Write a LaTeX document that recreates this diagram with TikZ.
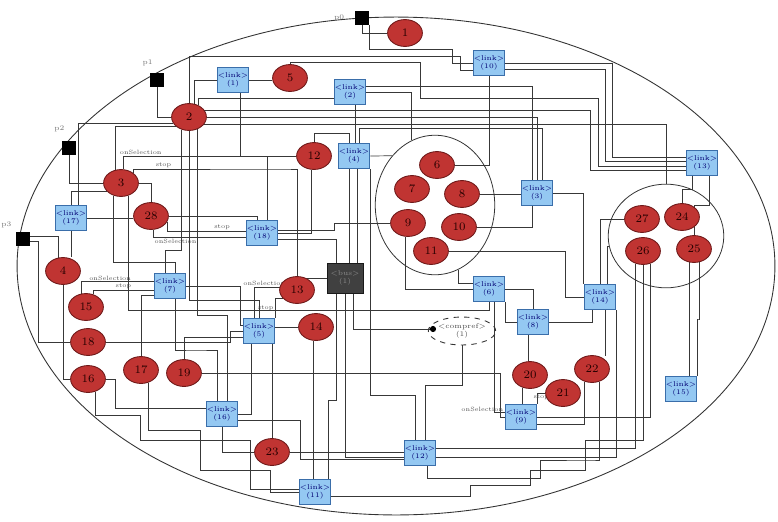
\documentclass[tikz,border=0pt]{standalone}
\usetikzlibrary{calc,shapes.geometric,backgrounds}
\definecolor{compred}{RGB}{192,52,50}
\definecolor{compedge}{RGB}{110,25,25}
\definecolor{linkfill}{RGB}{148,200,242}
\definecolor{linkedge}{RGB}{58,110,170}
\newcommand{\busx}[3]{\draw [wire] (#1) -- (#1 -| #3,0) |- (#2);}
\newcommand{\busy}[3]{\draw [wire] (#1) -- (#1 |- 0,#3) -| (#2);}
\newcommand{\busyx}[4]{\draw [wire] (#1) -- (#1 |- 0,#3) -- (#4,#3) |- (#2);}
\newcommand{\hz}[2]{\draw [wire] (#1) -| ($(#1)!.5!(#2)$) |- (#2);}
\newcommand{\vz}[2]{\draw [wire] (#1) |- ($(#1)!.5!(#2)$) -| (#2);}
\newcommand{\comp}[3]{\node [comp] (n#1) at (#2 ,#3) {#1};}
\newcommand{\lnk}[3]{\node [linkbox] (l#1) at (#2 ,#3) {\textless link\textgreater\\(#1)};}

\begin{document}
\begin{tikzpicture}[x=.02cm, y=-.02cm,
	wire/.style={draw=black!78, line width=.4pt},
	comp/.style={ellipse, draw=compedge, fill=compred, line width=.5pt, minimum width=19.8pt, minimum height=15.3pt, inner sep=0pt, text=black!85!red, font=\fontsize{6.5}{7}\selectfont},
	linkbox/.style={rectangle, draw=linkedge, fill=linkfill, line width=.5pt, minimum width=18.1pt, minimum height=14.7pt, inner sep=0pt, align=center, text=blue!45!black, font=\fontsize{4}{4.8}\selectfont},
	port/.style={rectangle, fill=black, minimum size=7.5pt, inner sep=0pt},
	plabel/.style={font=\fontsize{4}{5}\selectfont, text=black!55, inner sep=1pt},
	lbl/.style={font=\fontsize{3.5}{4}\selectfont, text=black!70, inner sep=.6pt},
	group/.style={ellipse, draw=black!80, line width=.45pt, inner sep=0pt}]

	\useasboundingbox (0 ,0) rectangle (778 ,521);
	\draw [black!80, line width=.5pt] (396 ,266) ellipse [x radius=7.58cm, y radius=4.98cm];
	\node [group, minimum width=68pt, minimum height=79.4pt] (grpA) at (435 ,205) {};
	\node [group, minimum width=65.8pt, minimum height=59pt] (grpB) at (666 ,236) {};

	% ports
	\node [port, label={[plabel, label distance=5pt]left:p0}] (p0) at (362 ,18) {};
	\node [port, label={[plabel, label distance=3pt]100:p1}] (p1) at (157 ,80) {};
	\node [port, label={[plabel, label distance=4pt]100:p2}] (p2) at (69 ,148) {};
	\node [port, label={[plabel, label distance=2pt]above left:p3}] (p3) at (23 ,239) {};

	% components
	\comp{1}{405}{33}
	\comp{2}{189}{117}
	\comp{3}{121}{183}
	\comp{4}{63}{271}
	\comp{5}{290}{78}
	\comp{6}{437}{165}
	\comp{7}{412}{189}
	\comp{8}{462}{194}
	\comp{9}{408}{223}
	\comp{10}{459}{227}
	\comp{11}{431}{251}
	\comp{12}{314}{156}
	\comp{13}{297}{290}
	\comp{14}{316}{327}
	\comp{15}{86}{307}
	\comp{16}{88}{379}
	\comp{17}{141}{370}
	\comp{18}{88}{342}
	\comp{19}{184}{373}
	\comp{20}{530}{375}
	\comp{21}{563}{393}
	\comp{22}{592}{369}
	\comp{23}{272}{452}
	\comp{24}{682}{217}
	\comp{25}{694}{249}
	\comp{26}{643}{251}
	\comp{27}{642}{219}
	\comp{28}{151}{216}

	% links
	\lnk{1}{233}{80}
	\lnk{2}{350}{92}
	\lnk{3}{537}{193}
	\lnk{4}{354}{156}
	\lnk{5}{259}{331}
	\lnk{6}{489}{289}
	\lnk{7}{170}{286}
	\lnk{8}{533}{322}
	\lnk{9}{521}{417}
	\lnk{10}{489}{63}
	\lnk{11}{315}{492}
	\lnk{12}{420}{453}
	\lnk{13}{702}{163}
	\lnk{14}{600}{297}
	\lnk{15}{681}{389}
	\lnk{16}{222}{414}
	\lnk{17}{71}{218}
	\lnk{18}{262}{233}

	\node [draw=black!90, fill=black!75, minimum width=20.4pt, minimum height=17pt, inner sep=0pt, align=center, text=black!45, font=\fontsize{4}{4.8}\selectfont] (hub) at (345 ,278) {\textless bus\textgreater\\(1)};
	\node [ellipse, draw=black!80, dashed, line width=.5pt, minimum width=28.4pt, minimum height=15.9pt, inner sep=0pt, align=center, text=black!70, font=\fontsize{4}{4.8}\selectfont] (cref) at (462 ,331) {\textless compref\textgreater\\(1)};
	\node [circle, fill=black, minimum size=3.5pt, inner sep=0pt] (pin) at (433 ,329) {};

	\begin{scope}[on background layer]
		% ports
		\draw [wire] (p0) |- (n1);
		\busyx{p0.south east}{l10.west}{49}{452}
		\draw [wire] (p1) |- (n2);
		\draw [wire] (p2) |- (n3);
		\draw [wire] (p3.20) -| (n4.110);
		\busx{p3.-20}{n18.west}{38}
		% top
		\busyx{n2.north}{l10.-155}{56}{460}
		\draw [wire] (n5.north) |- (420 ,62) |- (598 ,98) |- (l13.190);
		\busx{l10.east}{l13.160}{612}
		\busx{l10.-20}{l13.175}{605}
		\busx{n2.25}{l13.205}{590}
		\draw [wire] (l1.west) -| (n2.70);
		\draw [wire] (l1.east) -- (l1.east -| n5.west);
		\vz{l1.-60}{l18.70}
		\draw [wire] (l2.-160) -| (n2.50);
		\draw [wire] (l2.-70) -- (l2.-70 |- l4.north);
		\draw [wire] (n2.east) -| (l3.north);
		\draw [wire] (n2.-25) -| (grpB.north);
		\draw [wire] (n2.200) -| (l17.60);
		\draw [wire] (n2.215) -| (n3.115);
		\busy{n2.-120}{l7.110}{250}
		\busy{n2.-90}{l5.north}{300}
		\busy{n2.-55}{l16.70}{315}
		% 3, 28
		\draw [wire] (n3.-150) -| (l17.north);
		\draw [wire] (n3.80) |- node [lbl, pos=.55, above] {onSelection} (n12.west);
		\draw [wire] (n3.40) |- node [lbl, pos=.6, above] {stop} (285 ,169) -| (n13.north);
		\draw [wire] (n3.east) -| (n28.north);
		\busy{n3.-60}{l6.south}{310}
		\busy{n3.-120}{l7.70}{262}
		\draw [wire] (l17.east) -- (l17.east -| n28.west);
		\draw [wire] (n28.-80) |- node [lbl, pos=.62, below] {onSelection} (l18.-165);
		\draw [wire] (n28.-20) |- node [lbl, pos=.85, above] {stop} (l18.175);
		\draw [wire] (n28.east) -| (l18.110);
		% left
		\draw [wire] (l17.south) -- (l17.south |- n4.north);
		\draw [wire] (n15.110) |- node [lbl, pos=.7, above] {onSelection} (l7.165);
		\draw [wire] (n15.60) |- node [lbl, pos=.75, above] {stop} (l7.-165);
		\draw [wire] (n4.south) |- (n16.west);
		\busx{n18.east}{l5.west}{230}
		\busx{n16.east}{l16.160}{115}
		\draw [wire] (n16.-60) |- (140 ,415) |- (250 ,440) |- (l11.170);
		\draw [wire] (n17.north) |- (l7.-150);
		\draw [wire] (n17.-60) |- (200 ,430) |- (270 ,470) |- (l11.west);
		\busx{n19.east}{l9.west}{500}
		\draw [wire] (n19.north) |- (l5.-160);
		\busx{l7.east}{l5.160}{240}
		\vz{l7.-70}{l16.110}
		\draw [wire] (l5.-120) |- (l16.east);
		\busx{l16.-20}{l12.200}{300}
		\draw [wire] (l16.south) |- (n23.west);
		\draw [wire] (n23.east) -- (n23.east -| l12.west);
		\draw [wire] (n23.north) -- (n23.north |- l5.south);
		% middle
		\busy{n12.north}{l4.110}{133}
		\draw [wire] (n12.-100) |- (l18.east);
		\draw [wire] (n13.170) -| node [lbl, pos=.3, above] {onSelection} (l5.110);
		\draw [wire] (n13.-150) -| node [lbl, pos=.75, left] {stop} (l5.40);
		\draw [wire] (n14.west) -- (n14.west -| l5.east);
		\draw [wire] (n14.-100) -- (n14.-100 |- l11.north);
		\draw [wire] (hub.west) -- (hub.west -| n13.60);
		\draw [wire] (l18.-20) -| (hub.120);
		\draw [wire] (hub.-60) |- (pin);
		\draw [wire] (pin) -- (cref);
		\draw [wire] (l4.-110) -- (l4.-110 |- hub.north);
		\draw [wire] (l4.-75) -- (l4.-75 |- hub.north);
		\busy{l4.south east}{l12.110}{395}
		\busy{hub.-120}{l11.45}{400}
		\draw [wire] (hub.south) |- (l12.-165);
		\busy{cref.south}{l12.70}{385}
		% first group
		\draw [wire] (l2.east) -| (grpA.110);
		\draw [wire] (l2.20) -| (l3.110);
		\draw [wire] (l4.east) -- (grpA.131);
		\busy{l4.70}{l3.70}{128}
		\draw [wire] (n6.east) -| (l10.south);
		\draw [wire] (n8.east) -- (n8.east -| l3.west);
		\draw [wire] (n10.east) -| (l3.-110);
		\draw [wire] (n9.-100) |- (l6.west);
		\hz{n9.west}{l18.10}
		\busx{n11.east}{l14.west}{565}
		\draw [wire] (grpA.-70) |- (l6.160);
		\draw [wire] (l3.east) -| (l14.north west);
		% second group
		\draw [wire] (n27.west) -| (l14.north);
		\draw [wire] (l14.60) |- (grpB.190);
		\vz{l13.-125}{n24.north}
		\vz{l13.-60}{n25.north}
		\draw [wire] (n25.-110) -- (n25.-110 |- l15.north);
		\vz{n25.-70}{l15.north east}
		\draw [wire] (n26.-120) |- (l12.15);
		\draw [wire] (n26.-60) |- (l9.east);
		\draw [wire] (l11.-15) -| (470 ,485) -| (530 ,470) -| (585 ,440) -| (n26.south);
		\draw [wire] (l12.-60) |- (540 ,478) |- (592 ,460) -| (n22.-60);
		\draw [wire] (l12.-15) -| (l14.south east);
		% lower right
		\draw [wire] (l6.east) -| (l8.north);
		\draw [wire] (l6.south east) |- (l8.west);
		\draw [wire] (l8.-110) -- (l8.-110 |- n20.north);
		\draw [wire] (l8.east) -| (l14.-120);
		\draw [wire] (l14.-70) -- (l14.-70 |- n22.60);
		\draw [wire] (n20.-120) -- (n20.-120 |- l9.north);
		\draw [wire] (n21.west) -| node [lbl, pos=.25, below] {stop} (l9.north east);
		\draw [wire] (l9.165) -| node [lbl, at start, above left] {onSelection} (l6.-70);
		\draw [wire] (n22.-120) |- (l9.-25);
	\end{scope}
\end{tikzpicture}
\end{document}
